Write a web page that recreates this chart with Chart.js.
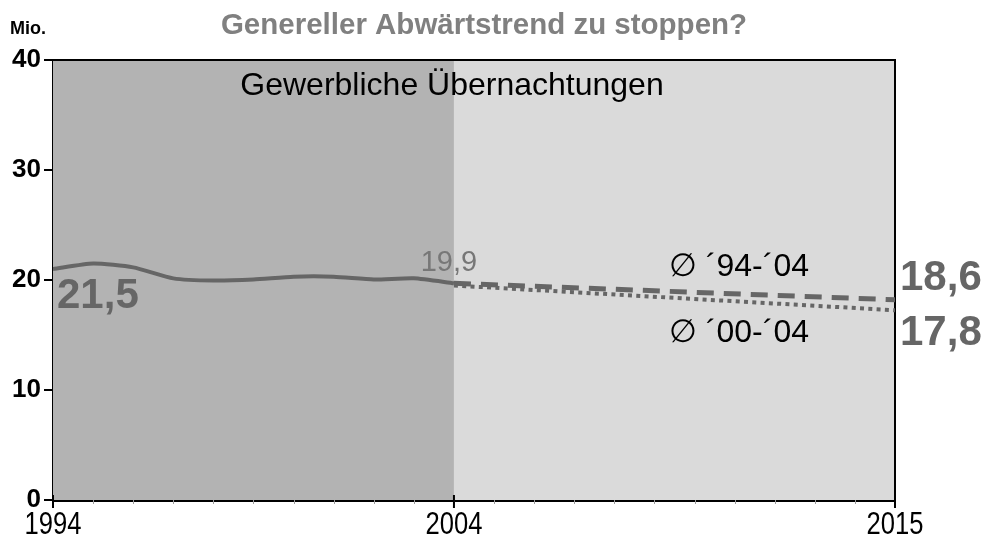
<!DOCTYPE html>
<html>
<head>
<meta charset="utf-8">
<script src="https://cdn.jsdelivr.net/npm/chart.js@4.4.1/dist/chart.umd.min.js"></script>
<style>
html,body{margin:0;padding:0;background:#fff;}
#wrap{width:981px;height:536px;}
</style>
</head>
<body>
<div id="wrap"><canvas id="c" width="981" height="536"></canvas></div>
<script>
// ---- data ----
const years = [1994, 1995, 1996, 1997, 1998, 1999, 2000, 2001, 2002, 2003, 2004];
const overnights = [21.0, 21.5, 21.15, 20.15, 19.95, 20.05, 20.3, 20.3, 20.05, 20.15, 19.7];
const trendYears = [2004, 2015];
const trend9404 = [19.7, 18.2];
const trend0004 = [19.5, 17.25];
const xTickLabels = [1994, 2004, 2015];
const titleText = 'Genereller Abwärtstrend zu stoppen?';
const unitText = 'Mio.';
const seriesTitle = 'Gewerbliche Übernachtungen';
const label9404 = '\u2205 \u00B494-\u00B404';
const label0004 = '\u2205 \u00B400-\u00B404';
const valueLabels = ['21,5', '19,9', '18,6', '17,8'];

const toXY = (xs, ys) => xs.map((x, i) => ({x: x, y: ys[i]}));
const GREY = '#666666';
const FONT = '"Liberation Sans", Arial, sans-serif';

const decor = {
  id: 'decor',
  beforeDatasetsDraw(chart) {
    const {ctx, chartArea: a, scales: {x, y}} = chart;
    const split = x.getPixelForValue(2004);
    ctx.save();
    ctx.fillStyle = '#b3b3b3';
    ctx.fillRect(a.left, a.top, split - a.left, a.bottom - a.top);
    ctx.fillStyle = '#dadada';
    ctx.fillRect(split, a.top, a.right - split, a.bottom - a.top);
    ctx.strokeStyle = '#000';
    ctx.lineWidth = 2;
    ctx.beginPath();
    ctx.moveTo(a.left, a.top);
    ctx.lineTo(a.right, a.top);
    ctx.lineTo(a.right, a.bottom);
    ctx.stroke();
    ctx.restore();
  },
  afterDraw(chart) {
    const {ctx, chartArea: a, scales: {x, y}} = chart;
    ctx.save();
    // minor year ticks
    ctx.strokeStyle = '#999';
    ctx.lineWidth = 1;
    for (let yr = 1994; yr <= 2015; yr++) {
      const px = Math.round(x.getPixelForValue(yr)) + 0.5;
      ctx.beginPath();
      ctx.moveTo(px, a.bottom);
      ctx.lineTo(px, a.bottom + 4);
      ctx.stroke();
    }
    // major ticks crossing the axis + narrow labels
    ctx.strokeStyle = '#000';
    ctx.lineWidth = 2;
    ctx.fillStyle = '#000';
    ctx.font = '32px ' + FONT;
    ctx.textAlign = 'center';
    ctx.textBaseline = 'top';
    xTickLabels.forEach(v => {
      const px = x.getPixelForValue(v);
      ctx.beginPath();
      ctx.moveTo(px, a.bottom - 5);
      ctx.lineTo(px, a.bottom + 8);
      ctx.stroke();
      ctx.save();
      ctx.translate(px, a.bottom + 9);
      ctx.scale(0.8, 1);
      ctx.fillText(String(v), 0, 0);
      ctx.restore();
    });
    // titles
    ctx.textBaseline = 'middle';
    ctx.textAlign = 'center';
    ctx.fillStyle = '#808080';
    ctx.font = 'bold 29.5px ' + FONT;
    ctx.fillText(titleText, 484, 26);
    ctx.textAlign = 'left';
    ctx.fillStyle = '#000';
    ctx.font = 'bold 18px ' + FONT;
    ctx.fillText(unitText, 10, 29);
    ctx.textAlign = 'center';
    ctx.font = '32px ' + FONT;
    ctx.fillText(seriesTitle, 452, 86);
    // value labels
    ctx.fillStyle = GREY;
    ctx.font = 'bold 42px ' + FONT;
    ctx.textAlign = 'left';
    ctx.fillText(valueLabels[0], x.getPixelForValue(1994) + 4, y.getPixelForValue(overnights[0]) + 27);
    ctx.font = '29px ' + FONT;
    ctx.fillStyle = '#777';
    ctx.textAlign = 'center';
    ctx.fillText(valueLabels[1], x.getPixelForValue(2004) - 5, y.getPixelForValue(overnights[10]) - 20);
    ctx.fillStyle = GREY;
    ctx.font = 'bold 42px ' + FONT;
    ctx.textAlign = 'left';
    ctx.fillText(valueLabels[2], a.right + 5, y.getPixelForValue(trend9404[1]) - 21);
    ctx.fillText(valueLabels[3], a.right + 5, y.getPixelForValue(trend0004[1]) + 23);
    ctx.fillStyle = '#000';
    ctx.font = '32px ' + FONT;
    ctx.textAlign = 'center';
    ctx.fillText(label9404, 739, 267);
    ctx.fillText(label0004, 739, 333);
    ctx.restore();
  }
};

new Chart(document.getElementById('c'), {
  type: 'line',
  data: {
    datasets: [
      {data: toXY(years, overnights), borderColor: GREY, borderWidth: 4, tension: 0.2, pointRadius: 0, fill: false},
      {data: toXY(trendYears, trend0004), borderColor: GREY, borderWidth: 4, borderDash: [4, 4.3], pointRadius: 0, fill: false},
      {data: toXY(trendYears, trend9404), borderColor: GREY, borderWidth: 5, borderDash: [17, 10], pointRadius: 0, fill: false}
    ]
  },
  options: {
    responsive: false,
    animation: false,
    layout: {padding: {top: 60, right: 86, left: 0, bottom: 0}},
    plugins: {legend: {display: false}, tooltip: {enabled: false}, title: {display: false}},
    scales: {
      x: {
        type: 'linear', min: 1994, max: 2015,
        afterBuildTicks: s => { s.ticks = xTickLabels.map(v => ({value: v})); },
        afterFit: s => { s.height = 36; },
        grid: {display: false, drawOnChartArea: false},
        border: {display: true, color: '#000', width: 3},
        ticks: {display: false}
      },
      y: {
        min: 0, max: 40,
        afterFit: s => { s.width = 53; },
        ticks: {stepSize: 10, color: '#000', font: {family: FONT, size: 26, weight: 'bold'}, padding: 3},
        grid: {drawOnChartArea: false, color: '#000', lineWidth: 2, tickLength: 9},
        border: {display: true, color: '#000', width: 2}
      }
    }
  },
  plugins: [decor]
});
</script>
</body>
</html>
